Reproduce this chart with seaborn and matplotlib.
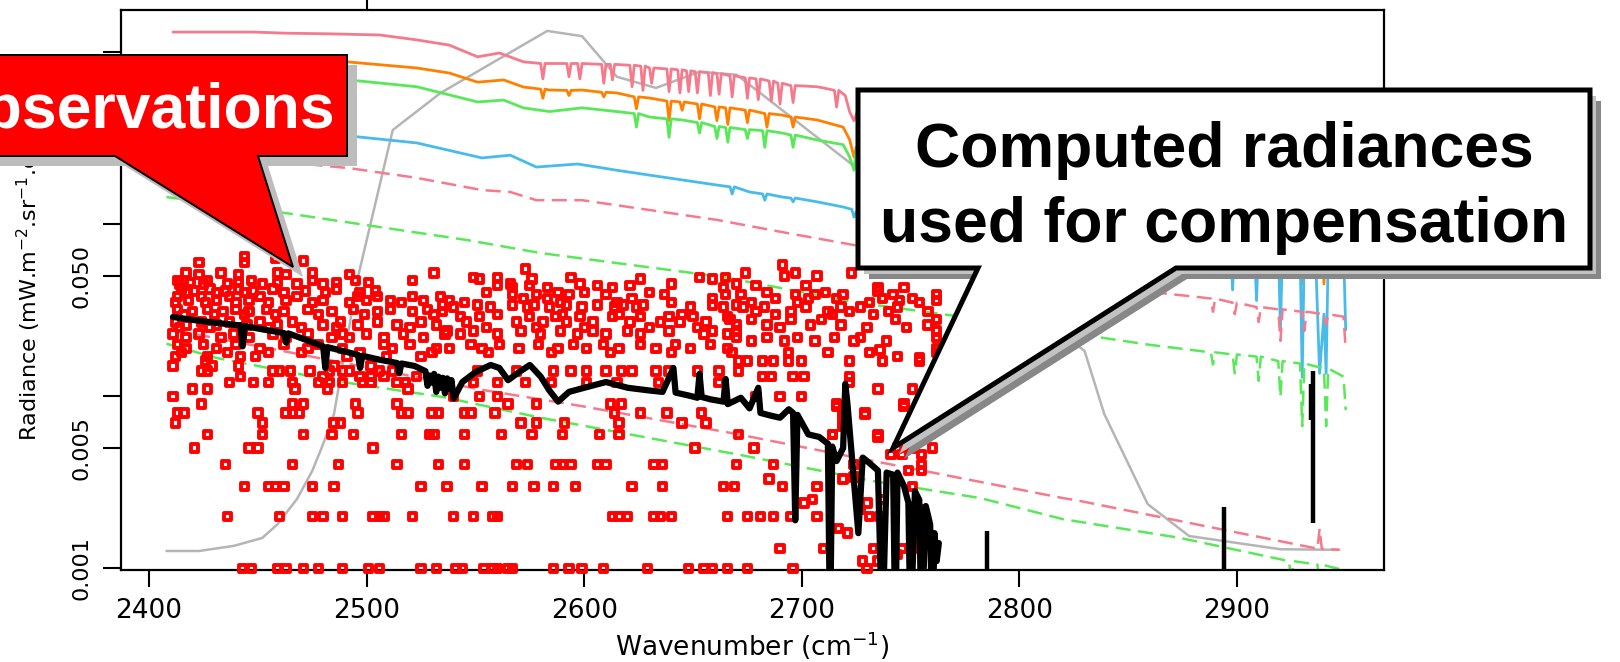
import matplotlib
matplotlib.use("Agg")
import matplotlib.pyplot as plt
import seaborn as sns
import pandas as pd
from matplotlib.patches import Polygon
from matplotlib.transforms import Affine2D
from matplotlib.ticker import NullLocator

# ---- spectra (wavenumber cm-1, radiance mW.m-2.sr-1.cm-1) ----
pink_solid = [(2411, 1.31), (2448, 1.31), (2463, 1.29), (2482, 1.28), (2506, 1.26), (2523, 1.18),
              (2538, 1.10), (2551, 0.94), (2561, 0.99), (2572, 0.88),
              (2580, 0.86), (2581, 0.70), (2582, 0.86), (2592, 0.86), (2593, 0.72), (2594, 0.86),
              (2597, 0.86), (2598, 0.70), (2599, 0.86), (2608, 0.85), (2609, 0.66), (2610, 0.85),
              (2612, 0.85), (2613, 0.69), (2614, 0.85), (2621, 0.84), (2622, 0.63), (2623, 0.84),
              (2626, 0.83), (2627, 0.60), (2628, 0.83), (2630, 0.81), (2631, 0.66), (2632, 0.81),
              (2638, 0.80), (2639, 0.59), (2640, 0.80), (2643, 0.79), (2644, 0.58), (2645, 0.79),
              (2647, 0.78), (2648, 0.59), (2649, 0.78), (2651, 0.77), (2652, 0.58), (2653, 0.77),
              (2657, 0.76), (2658, 0.56), (2659, 0.76), (2661, 0.75), (2662, 0.57), (2663, 0.75),
              (2667, 0.73), (2668, 0.55), (2669, 0.73), (2674, 0.71), (2675, 0.54), (2676, 0.71),
              (2679, 0.70), (2680, 0.53), (2681, 0.70), (2685, 0.68), (2686, 0.52), (2687, 0.68),
              (2689, 0.66), (2690, 0.50), (2691, 0.66), (2695, 0.64), (2696, 0.51), (2697, 0.64),
              (2707, 0.63), (2710, 0.62), (2715, 0.60), (2716, 0.48), (2717, 0.60), (2720, 0.56),
              (2722, 0.45), (2724, 0.40), (2726, 0.47), (2728, 0.50),
              (2780, 0.42), (2850, 0.35), (2900, 0.30), (2950, 0.26)]

orange_solid = [(2411, 0.877), (2492, 0.877), (2523, 0.81), (2538, 0.757), (2551, 0.67), (2563, 0.69),
                (2572, 0.628), (2580, 0.61), (2581, 0.54), (2582, 0.61), (2584, 0.603),
                (2592, 0.60), (2593, 0.56), (2594, 0.60), (2599, 0.603), (2608, 0.585), (2609, 0.55),
                (2610, 0.585), (2615, 0.58), (2623, 0.55), (2624, 0.47), (2625, 0.55), (2630, 0.542),
                (2638, 0.52), (2639, 0.40), (2640, 0.52), (2644, 0.514), (2645, 0.46), (2646, 0.514),
                (2652, 0.50), (2653, 0.41), (2654, 0.50), (2660, 0.481), (2661, 0.40), (2662, 0.481),
                (2665, 0.475), (2666, 0.38), (2667, 0.475), (2674, 0.461), (2675, 0.39), (2676, 0.461),
                (2683, 0.44), (2684, 0.367), (2685, 0.44), (2691, 0.431), (2695, 0.42), (2696, 0.367),
                (2697, 0.42), (2707, 0.404), (2719, 0.367), (2722, 0.31), (2724, 0.246), (2725, 0.28),
                (2780, 0.32), (2850, 0.26), (2900, 0.22), (2929, 0.21), (2930, 0.045), (2931, 0.21),
                (2939, 0.20), (2940, 0.045), (2941, 0.20), (2950, 0.19)]

green_solid = [(2411, 0.70), (2492, 0.69), (2523, 0.63), (2551, 0.514), (2563, 0.527), (2572, 0.475),
               (2584, 0.452), (2599, 0.475), (2615, 0.452), (2623, 0.44), (2624, 0.367), (2625, 0.44),
               (2630, 0.42), (2638, 0.41), (2639, 0.32), (2640, 0.41), (2645, 0.404), (2652, 0.39),
               (2653, 0.339), (2654, 0.39), (2660, 0.37), (2661, 0.315), (2662, 0.37), (2665, 0.365),
               (2666, 0.30), (2667, 0.365), (2674, 0.355), (2675, 0.315), (2676, 0.355), (2682, 0.35),
               (2683, 0.28), (2684, 0.35), (2691, 0.339), (2695, 0.33), (2696, 0.28), (2697, 0.33),
               (2707, 0.309), (2719, 0.29), (2722, 0.246), (2724, 0.206), (2725, 0.27),
               (2780, 0.25), (2850, 0.205), (2900, 0.175), (2950, 0.15)]

blue_solid = [(2411, 0.326), (2492, 0.326), (2523, 0.297), (2553, 0.243), (2566, 0.252), (2578, 0.215),
              (2597, 0.224), (2615, 0.206), (2630, 0.193), (2645, 0.181), (2661, 0.169), (2667, 0.165),
              (2668, 0.150), (2669, 0.165), (2676, 0.154), (2682, 0.150), (2683, 0.138), (2684, 0.150),
              (2691, 0.144), (2695, 0.142), (2696, 0.135), (2697, 0.142), (2707, 0.135), (2719, 0.126),
              (2723, 0.122), (2724, 0.110), (2725, 0.118), (2780, 0.105), (2850, 0.090), (2897, 0.080),
              (2898, 0.0415), (2899, 0.080), (2908, 0.078), (2909, 0.036), (2910, 0.078), (2919, 0.076),
              (2920, 0.0243), (2921, 0.076), (2929, 0.075), (2930, 0.0129), (2931, 0.075), (2936, 0.074),
              (2938, 0.0136), (2940, 0.030), (2941, 0.0136), (2942, 0.074), (2949, 0.072), (2950, 0.0243)]

pink_dashed_hi = [(2411, 0.25), (2452, 0.236), (2492, 0.212), (2523, 0.186), (2553, 0.158), (2566, 0.154),
                  (2578, 0.138), (2599, 0.138), (2630, 0.121), (2661, 0.106), (2691, 0.090), (2724, 0.0757),
                  (2790, 0.057), (2860, 0.0404), (2880, 0.038), (2888, 0.037), (2889, 0.031), (2890, 0.037),
                  (2898, 0.035), (2899, 0.030), (2900, 0.035), (2909, 0.033), (2910, 0.027), (2911, 0.033),
                  (2919, 0.032), (2920, 0.021), (2921, 0.032), (2930, 0.031), (2931, 0.024), (2932, 0.031),
                  (2940, 0.030), (2941, 0.026), (2942, 0.030), (2949, 0.029), (2950, 0.0186)]

green_dashed_hi = [(2408, 0.144), (2463, 0.116), (2546, 0.081), (2580, 0.068), (2664, 0.0493), (2724, 0.0353),
                   (2774, 0.0289), (2860, 0.0199), (2888, 0.018), (2889, 0.0153), (2890, 0.018), (2898, 0.0175),
                   (2899, 0.0136), (2900, 0.0175), (2909, 0.017), (2910, 0.0123), (2911, 0.017), (2919, 0.016),
                   (2920, 0.0099), (2921, 0.016), (2929, 0.0155), (2930, 0.0067), (2931, 0.0155), (2940, 0.0145),
                   (2941, 0.0067), (2942, 0.0145), (2949, 0.013), (2950, 0.0083)]

pink_dashed_lo = [(2411, 0.0243), (2456, 0.0189), (2553, 0.0109), (2598, 0.0088), (2668, 0.0061), (2733, 0.0042),
                  (2820, 0.00256), (2828, 0.00246), (2937, 0.0013), (2938, 0.0017), (2939, 0.0013), (2947, 0.00128)]

green_dashed_lo = [(2408, 0.0202), (2431, 0.0167), (2485, 0.0123), (2535, 0.0099), (2580, 0.0075), (2672, 0.00455),
                   (2733, 0.00321), (2782, 0.00256), (2820, 0.00193), (2874, 0.0015), (2924, 0.0011), (2925, 0.0008),
                   (2926, 0.0011), (2937, 0.00105), (2938, 0.0008), (2939, 0.00105), (2947, 0.00099)]

# filter response (grey)
filter_curve = [(2408, 0.00126), (2423, 0.00126), (2439, 0.00135), (2452, 0.0015), (2459, 0.0018), (2468, 0.00253),
                (2475, 0.00368), (2480, 0.00527), (2485, 0.00788), (2489, 0.0154), (2496, 0.0493), (2512, 0.353),
                (2534, 0.58), (2583, 1.33), (2599, 1.24), (2615, 0.72), (2633, 0.62), (2653, 0.77), (2670, 0.74),
                (2684, 0.54), (2728, 0.199), (2830, 0.0183), (2839, 0.0079), (2859, 0.00236), (2878, 0.00154),
                (2920, 0.00129), (2947, 0.00128)]

# black spectrum
black_line = [(2411, 0.0289), (2420, 0.0278), (2431, 0.0267), (2442, 0.0258), (2443, 0.0195), (2444, 0.0256),
              (2452, 0.0245), (2462, 0.0233), (2463, 0.0205), (2464, 0.0232), (2472, 0.0213), (2480, 0.0195),
              (2481, 0.0146), (2482, 0.0193), (2490, 0.0182), (2496, 0.0174), (2497, 0.0146), (2498, 0.0172),
              (2506, 0.0163), (2514, 0.0156), (2515, 0.0136), (2516, 0.0155), (2522, 0.0150), (2527, 0.0140),
              (2528, 0.0115), (2529, 0.0132), (2530, 0.0120), (2531, 0.0135), (2532, 0.0106), (2533, 0.0130),
              (2534, 0.0112), (2535, 0.0128), (2536, 0.0104), (2537, 0.0127), (2538, 0.0110), (2539, 0.0124),
              (2540, 0.0097), (2544, 0.0121), (2550, 0.0138), (2557, 0.0152), (2561, 0.0146), (2565, 0.0124),
              (2570, 0.0138), (2575, 0.0152), (2580, 0.0130), (2584, 0.0108), (2588, 0.0093), (2593, 0.0106),
              (2600, 0.0112), (2610, 0.0121), (2620, 0.0112), (2630, 0.0108), (2636, 0.0106), (2641, 0.0146),
              (2642, 0.0105), (2648, 0.0101), (2652, 0.0098), (2653, 0.0135), (2654, 0.0099), (2658, 0.0096),
              (2664, 0.0093), (2665, 0.0126), (2666, 0.0090), (2672, 0.0098), (2676, 0.0085), (2680, 0.0112),
              (2681, 0.0080), (2686, 0.0077), (2690, 0.0075), (2694, 0.0084), (2696, 0.0080), (2697, 0.0019),
              (2698, 0.0078), (2703, 0.0060), (2708, 0.0058), (2712, 0.0053), (2713, 0.0004), (2714, 0.0051),
              (2716, 0.0042), (2719, 0.0050), (2720, 0.0118), (2721, 0.0090), (2723, 0.0045), (2726, 0.0016),
              (2728, 0.0044), (2731, 0.0041), (2735, 0.0037), (2737, 0.0004), (2739, 0.0036), (2742, 0.0035),
              (2743, 0.0004), (2744, 0.0036), (2747, 0.0030), (2749, 0.0024), (2750, 0.0004), (2752, 0.0028),
              (2754, 0.0025), (2755, 0.0004), (2757, 0.0023), (2759, 0.0018), (2760, 0.0004), (2761, 0.0016),
              (2762, 0.0011), (2763, 0.0014)]
black_iso_wn = [2785, 2894, 2935, 2934]
black_iso_low = [0.0005, 0.0005, 0.00183, 0.0073]
black_iso_high = [0.00165, 0.00227, 0.0140, 0.0118]

# observations: radiance level -> wavenumbers
obs_rows = [
    (0.001, [2443, 2447, 2459, 2463, 2471, 2478, 2489, 2501, 2506, 2525, 2532, 2541, 2544, 2554, 2558, 2560,
             2565, 2567, 2586, 2593, 2599, 2609, 2629, 2648, 2655, 2659, 2666, 2675, 2696, 2730]),
    (0.002, [2436, 2460, 2475, 2480, 2489, 2503, 2506, 2508, 2521, 2540, 2549, 2558, 2560, 2613, 2616, 2620,
             2632, 2635, 2640, 2666, 2675, 2681, 2687, 2695, 2707, 2731, 2736]),
    (0.003, [2444, 2455, 2458, 2462, 2475, 2485, 2525, 2537, 2553, 2567, 2577, 2586, 2596, 2622, 2636, 2664,
             2669, 2691, 2707, 2751]),
    (0.004, [2435, 2466, 2487, 2514, 2533, 2545, 2569, 2574, 2587, 2590, 2594, 2606, 2610, 2632, 2636, 2670,
             2687, 2724, 2755]),
    (0.005, [2421, 2446, 2450, 2503, 2651, 2678, 2744, 2751, 2760]),
    (0.006, [2427, 2452, 2471, 2484, 2494, 2516, 2529, 2531, 2545, 2562, 2576, 2590, 2607, 2616, 2671, 2714, 2735]),
    (0.007, [2412, 2452, 2485, 2488, 2571, 2578, 2591, 2616, 2645, 2656, 2719]),
    (0.008, [2413, 2416, 2450, 2463, 2466, 2469, 2496, 2516, 2519, 2530, 2533, 2545, 2548, 2559, 2614, 2626,
             2638, 2654, 2719, 2729]),
    (0.009, [2424, 2466, 2471, 2495, 2514, 2565, 2578, 2612, 2617, 2716, 2747]),
    (0.010, [2411, 2540, 2552, 2560, 2679, 2690, 2700]),
    (0.011, [2420, 2427, 2467, 2482, 2519, 2735, 2751]),
    (0.012, [2437, 2448, 2455, 2466, 2478, 2483, 2489, 2498, 2502, 2514, 2518, 2537, 2549, 2560, 2573, 2585,
             2601, 2615, 2634, 2662, 2722]),
    (0.013, [2442, 2480, 2497, 2502, 2508, 2523, 2682, 2686, 2696, 2701, 2722]),
    (0.014, [2424, 2427, 2457, 2460, 2465, 2474, 2483, 2489, 2492, 2506, 2512, 2551, 2569, 2586, 2594, 2601,
             2610, 2617, 2622, 2633, 2639, 2652, 2662, 2671]),
    (0.015, [2411, 2429, 2441, 2485, 2502]),
    (0.016, [2426, 2671, 2675, 2682, 2687, 2694, 2700, 2722, 2737, 2754, 2763]),
    (0.017, [2412, 2427, 2442, 2449, 2491, 2509, 2525, 2744]),
    (0.018, [2415, 2436, 2455, 2470, 2497, 2530, 2556, 2585, 2612, 2640, 2668, 2694, 2712, 2731]),
    (0.019, [2417, 2431, 2451, 2473, 2489, 2512, 2532, 2538, 2553, 2570, 2588, 2601, 2616, 2633, 2649, 2666, 2762]),
    (0.020, [2413, 2425, 2440, 2462, 2478, 2508, 2520, 2548, 2561, 2579, 2595, 2609, 2626, 2642, 2658]),
    (0.021, [2677, 2692, 2706, 2724, 2739]),
    (0.022, [2417, 2433, 2446, 2463, 2484, 2492, 2508, 2526, 2670, 2684, 2698, 2715, 2727, 2762]),
    (0.023, [2411, 2423, 2439, 2457, 2473, 2489, 2500, 2517, 2536, 2543, 2560, 2580, 2597, 2610, 2626, 2655, 2666]),
    (0.024, [2537, 2549, 2571, 2589, 2604, 2620, 2639, 2659, 2670, 2762]),
    (0.025, [2414, 2428, 2443, 2455, 2470, 2486, 2520, 2555, 2578, 2600, 2630, 2652, 2690, 2730, 2748]),
    (0.026, [2417, 2431, 2445, 2459, 2480, 2496, 2514, 2532, 2670, 2684, 2704, 2718, 2758]),
    (0.027, [2412, 2424, 2437, 2451, 2466, 2488, 2505, 2525, 2546, 2569, 2581, 2592, 2604, 2621, 2635, 2644, 2656]),
    (0.028, [2667, 2677, 2695, 2709, 2743, 2762]),
    (0.029, [2543, 2552, 2575, 2587, 2598, 2613, 2626, 2639, 2650, 2666]),
    (0.030, [2416, 2430, 2444, 2458, 2478, 2499, 2531, 2560, 2590, 2616, 2645, 2688, 2714, 2733]),
    (0.031, [2420, 2434, 2446, 2462, 2484, 2505, 2521, 2535, 2679, 2695, 2712, 2722, 2740, 2758]),
    (0.032, [2413, 2427, 2440, 2454, 2473, 2494, 2511, 2528]),
    (0.033, [2540, 2557, 2574, 2584, 2599, 2614, 2624, 2649, 2664, 2673, 2683, 2702, 2718, 2727, 2744]),
    (0.034, [2535, 2551, 2567, 2577, 2592, 2606, 2618, 2627, 2659, 2670]),
    (0.035, [2412, 2426, 2440, 2455, 2475, 2492, 2516, 2545, 2589, 2615, 2640, 2677, 2698, 2731, 2754]),
    (0.036, [2418, 2431, 2446, 2463, 2480, 2500, 2511, 2526, 2538, 2745, 2762]),
    (0.037, [2572, 2583, 2622, 2659, 2688, 2703, 2716, 2737, 2751]),
    (0.038, [2413, 2424, 2437, 2451, 2468, 2496, 2505, 2521, 2534]),
    (0.039, [2567, 2578, 2593, 2610, 2637, 2665, 2672, 2697, 2706, 2719, 2742, 2762]),
    (0.040, [2417, 2431, 2444, 2462, 2481, 2497, 2555, 2588, 2600, 2630, 2684, 2711]),
    (0.041, [2421, 2435, 2448, 2472, 2504, 2735]),
    (0.042, [2415, 2428, 2441, 2457, 2486]),
    (0.043, [2567, 2583, 2613, 2664, 2735, 2747]),
    (0.044, [2560, 2575, 2606, 2621, 2679, 2702]),
    (0.045, [2414, 2425, 2436, 2452, 2468, 2480, 2566, 2598, 2640, 2670]),
    (0.046, [2419, 2441, 2459, 2486, 2501]),
    (0.047, [2413, 2427, 2447, 2475, 2495, 2521]),
    (0.048, [2552, 2576, 2626, 2659]),
    (0.049, [2549, 2560, 2594, 2653, 2665]),
    (0.050, [2692, 2707]),
    (0.051, [2423, 2441, 2463, 2492]),
    (0.052, [2417, 2433, 2459, 2475, 2531, 2674, 2697, 2723]),
    (0.055, [2573]),
    (0.058, [2691]),
    (0.060, [2423, 2444]),
    (0.061, [2471]),
    (0.063, [2458]),
    (0.065, [2444]),
]
obs_extra = [(2690, 0.0013), (2701, 0.0024), (2705, 0.0025), (2710, 0.0013), (2717, 0.0017), (2721, 0.0016),
             (2727, 0.0022), (2730, 0.0024), (2733, 0.0013), (2728, 0.0011), (2735, 0.0011), (2744, 0.0012),
             (2746, 0.0013), (2751, 0.0013), (2755, 0.0014), (2760, 0.0014), (2685, 0.0033), (2719, 0.0033),
             (2724, 0.0034), (2737, 0.0025), (2749, 0.0037), (2755, 0.0037), (2754, 0.0022), (2741, 0.0046),
             (2746, 0.0046), (2755, 0.0046), (2716, 0.0087), (2747, 0.0087), (2719, 0.0078), (2729, 0.0078),
             (2719, 0.0067), (2714, 0.0060), (2735, 0.0058), (2736, 0.0186), (2754, 0.0167), (2762, 0.018)]

x_ticks = [2400, 2500, 2600, 2700, 2800, 2900]
y_ticks = [0.001, 0.005, 0.01, 0.05, 0.1, 1.0]
y_ticklabels = ["0.001", "0.005", "", "0.050", "", ""]

sns.set_style("ticks")
plt.rcParams["font.family"] = ["DejaVu Sans"]
plt.rcParams["text.color"] = "black"

W, H = 1620, 662
fig = plt.figure(figsize=(W / 100, H / 100), dpi=100)
ax = fig.add_axes([121 / W, 92 / H, 1263 / W, 560 / H])
ax.set_yscale("log")


def draw(pairs, color, lw, ls="-", z=2):
    df = pd.DataFrame(pairs, columns=["wn", "rad"])
    sns.lineplot(data=df, x="wn", y="rad", ax=ax, color=color, linewidth=lw, linestyle=ls,
                 estimator=None, sort=False, legend=False, zorder=z)


dash = (0, (6, 3))
draw(filter_curve, "#b5b5b5", 1.8, z=1.5)
draw(pink_solid, "#f47a8c", 2.0)
draw(orange_solid, "#ff8000", 2.0)
draw(green_solid, "#58e858", 2.0)
draw(blue_solid, "#48bbea", 2.0)
draw(pink_dashed_hi, "#f47a8c", 1.8, dash)
draw(green_dashed_hi, "#58e858", 1.8, dash)
draw(pink_dashed_lo, "#f47a8c", 1.8, dash)
draw(green_dashed_lo, "#58e858", 1.8, dash)

obs = [(wn, lev) for lev, wns in obs_rows for wn in wns] + obs_extra
obs_df = pd.DataFrame(obs, columns=["wn", "rad"])
sns.scatterplot(data=obs_df, x="wn", y="rad", ax=ax, marker="s", s=28, facecolor="none",
                edgecolor="#ff0000", linewidth=2.8, zorder=3, clip_on=False, legend=False)

draw(black_line, "black", 4.5, z=4)
ax.vlines(black_iso_wn, black_iso_low, black_iso_high, colors="black", linewidth=3.2, zorder=4)

ax.set_xlim(2387.1, 2967.6)
ax.set_ylim(0.000977, 1.76)
ax.set_xticks(x_ticks)
ax.set_xticklabels([str(v) for v in x_ticks])
ax.set_yticks(y_ticks)
ax.set_yticklabels(y_ticklabels)
ax.yaxis.set_minor_locator(NullLocator())
ax.tick_params(axis="x", direction="out", length=12, width=1.5, pad=8, labelsize=19,
               colors="black")
ax.tick_params(axis="y", direction="out", length=13, width=1.5, pad=8, labelsize=16,
               colors="black")
for t in ax.get_yticklabels():
    t.set_rotation(90)
    t.set_va("center")
for s in ax.spines.values():
    s.set_visible(True)
    s.set_linewidth(1.6)
    s.set_color("black")

sec = ax.secondary_xaxis("top")
sec.set_xticks([2500])
sec.set_xticklabels([""])
sec.tick_params(direction="out", length=7.5, width=1.5, colors="black")
sec.spines["top"].set_visible(False)

ax.set_xlabel("Wavenumber (cm$^{-1}$)", fontsize=19, color="black")
ax.xaxis.set_label_coords(0.5, -0.107)
ax.set_ylabel("Radiance (mW.m$^{-2}$.sr$^{-1}$.cm$^{-1}$)", fontsize=16, color="black")
ax.yaxis.label.set_horizontalalignment("left")
ax.yaxis.set_label_coords(-0.062, 0.23)

# callouts, in figure pixels (origin top-left)
pix = Affine2D().scale(1 / W, -1 / H).translate(0, 1) + fig.transFigure


def callout(pts, face, edge, lw, shadows):
    for dx, dy, col in shadows:
        fig.add_artist(Polygon([(x + dx, y + dy) for x, y in pts], closed=True, transform=pix,
                               facecolor=col, edgecolor="none", zorder=10))
    fig.add_artist(Polygon(pts, closed=True, transform=pix, facecolor=face, edgecolor=edge,
                           linewidth=lw, joinstyle="miter", zorder=11))


callout([(-30, 55), (347, 55), (347, 156), (258, 156), (293, 267), (115, 156), (-30, 156)],
        "#ff0000", "black", 1.4, [(10, 10, "#bdbdbd")])
callout([(858, 90), (1590, 90), (1590, 268), (1176, 268), (893, 448), (978, 268), (858, 268)],
        "white", "black", 3.6, [(11, 11, "#878787"), (6, 6, "#c2c2c2")])

big = dict(transform=pix, fontsize=45, fontweight="bold", family="Liberation Sans", zorder=12,
           va="baseline")
fig.text(335, 128, "Observations", ha="right", color="white", **big)
fig.text(1224, 167, "Computed radiances", ha="center", color="black", **big)
fig.text(1224, 242, "used for compensation", ha="center", color="black", **big)

fig.savefig("out.png", dpi=100)
